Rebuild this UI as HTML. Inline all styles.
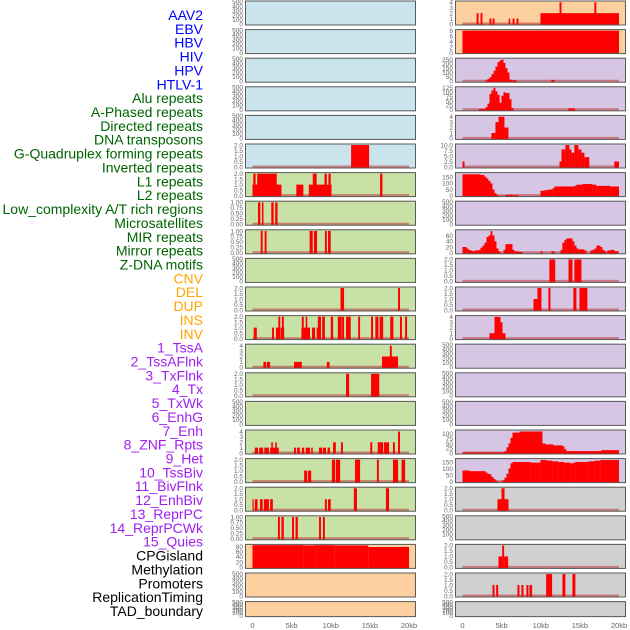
<!DOCTYPE html>
<html><head><meta charset="utf-8"><style>
html,body{margin:0;padding:0;background:#fff;width:630px;height:630px;overflow:hidden}
svg{display:block;font-family:"Liberation Sans",sans-serif}
</style></head><body>
<svg id="chart" width="630" height="630" viewBox="0 0 630 630"></svg>
<script>
// ---- data ----
const trackLabels = ["AAV2","EBV","HBV","HIV","HPV","HTLV-1","Alu repeats","A-Phased repeats","Directed repeats","DNA transposons","G-Quadruplex forming repeats","Inverted repeats","L1 repeats","L2 repeats","Low_complexity A/T rich regions","Microsatellites","MIR repeats","Mirror repeats","Z-DNA motifs","CNV","DEL","DUP","INS","INV","1_TssA","2_TssAFlnk","3_TxFlnk","4_Tx","5_TxWk","6_EnhG","7_Enh","8_ZNF_Rpts","9_Het","10_TssBiv","11_BivFlnk","12_EnhBiv","13_ReprPC","14_ReprPCWk","15_Quies","CPGisland","Methylation","Promoters","ReplicationTiming","TAD_boundary"];
const labelCategory = [0,0,0,0,0,0,1,1,1,1,1,1,1,1,1,1,1,1,1,2,2,2,2,2,3,3,3,3,3,3,3,3,3,3,3,3,3,3,3,4,4,4,4,4];
const xTicks = [0,5,10,15,20];
const xTickLabels = ["0","5kb","10kb","15kb","20kb"];
const EMPTY_TICKS = [0,100,200,300,400,500];
// per-track y-domain max and tick values (null ticks -> empty panel)
const yMax = [520,520,520,520,520,2.05, 2.05,1.03,1.03,520,2.05,2.05,4.2,2.05,520,4.2,2.05,2.05,1.03,86,520,520,
  4.15,8.2,260,128,4.15,10.25,185,520,78,2.05,2.05,4.15,520,520,520,118,172,2.05,520,2.05,2.05,520];
const yTicks = [null,null,null,null,null,[0,0.5,1,1.5,2],
 [0,0.5,1,1.5,2],[0,0.25,0.5,0.75,1],[0,0.25,0.5,0.75,1],null,[0,0.5,1,1.5,2],[0,0.5,1,1.5,2],[0,1,2,3,4],[0,0.5,1,1.5,2],null,[0,1,2,3,4],[0,0.5,1,1.5,2],[0,0.5,1,1.5,2],[0,0.25,0.5,0.75,1],[0,20,40,60,80],null,null,
 [0,1,2,3,4],[0,2,4,6,8],[0,50,100,150,200,250],[0,25,50,75,100,125],[0,1,2,3,4],[0,2.5,5,7.5,10],[0,50,100,150],null,[0,20,40,60],[0,0.5,1,1.5,2],[0,0.5,1,1.5,2],[0,1,2,3,4],null,null,null,[0,25,50,75,100],[0,50,100,150],[0,0.5,1,1.5,2],null,[0,0.5,1,1.5,2],[0,0.5,1,1.5,2],null];
const tickDecimals = [0,0,0,0,0,1, 1,2,2,0,1,1,0,1,0,0,1,1,2,0,0,0, 0,0,0,0,0,1,0,0,0,1,1,0,0,0,0,0,0,1,0,1,1,0];
// segments per track: [startKb, endKb, value]
const segs = [];
for (let i=0;i<44;i++) segs.push([]);
segs[5] = [[12.6,14.9,2]];
segs[6] = [[0,3.7,1],[0.1,0.4,2],[0.6,3.1,2],[5.6,6.5,1],[7.2,10.1,1],[7.7,8.2,2],[9.2,9.5,2],[9.7,10.0,2],[16.3,16.6,2]];
segs[7] = [[0.7,1.0,1],[1.2,1.4,1],[2.4,2.7,1],[2.9,3.2,1]];
segs[8] = [[1.05,1.3,1],[1.55,1.8,1],[7.3,7.7,1],[7.85,8.25,1],[9.25,9.5,1],[9.65,10.0,1]];
segs[10] = [[11.25,11.7,2],[18.6,18.85,2]];
segs[11] = [[0.15,0.55,1],[2.5,2.75,1],[3.0,3.35,1],[3.3,3.55,2],[3.6,4.05,1],[3.75,4.0,2],[6.25,7.35,1],[6.3,6.55,2],[6.8,7.0,2],[7.6,8.0,1],[8.2,8.45,1],[8.35,8.75,2],[8.9,9.25,2],[10.0,10.3,2],[10.9,11.4,2],[11.45,11.7,2],[11.95,12.55,2],[13.5,13.75,2],[15.15,15.4,2],[15.7,16.1,2],[16.25,16.7,2],[17.6,18.0,2],[18.85,19.1,2],[19.5,19.75,2]];
segs[12] = [[1.4,1.75,1],[1.85,2.25,1],[5.3,6.3,1],[9.5,9.85,1],[16.55,18.6,2],[17.55,17.8,4]];
segs[13] = [[11.95,12.35,2],[15.15,16.2,2]];
segs[15] = [[0.3,0.7,1],[0.85,1.35,1],[1.5,2.1,1],[2.25,3.35,1],[2.4,2.6,2],[2.9,3.1,2],[5.3,5.55,1],[5.7,6.05,1],[6.3,6.6,1],[6.8,7.35,1],[7.5,7.7,1],[8.5,8.9,1],[9.0,9.4,1],[9.6,9.9,1],[10.3,10.65,2],[11.3,11.55,2],[15.05,15.3,2],[16.0,16.7,2],[16.8,17.45,2],[17.95,18.2,2],[18.6,18.85,4]];
segs[16] = [[6.6,7.0,1],[7.1,7.5,1],[10.15,10.55,2],[10.65,11.2,2],[13.1,13.75,2],[15.9,16.15,2],[17.95,18.6,2],[19.05,19.5,2]];
segs[17] = [[0,0.15,1],[0.3,0.65,1],[0.95,1.3,1],[1.45,2.1,1],[2.25,2.6,1],[9.25,9.5,1],[9.65,10.0,1],[12.95,13.35,2],[17.05,17.45,2]];
segs[18] = [[3.25,3.5,1],[3.7,4.0,1],[5.05,5.3,1],[5.5,5.8,1],[8.5,8.75,1],[9.0,9.25,1]];
segs[19] = [[0,6.5,85],[6.5,8.0,84],[8.0,10.5,85],[10.5,14.8,84],[14.8,20,78]];
segs[22] = [[1.8,2.05,2],[2.3,2.55,2],[3.45,3.7,1],[3.85,4.1,1],[5.9,6.1,1],[6.4,6.65,1],[6.9,7.15,1],[9.96,20,2],[12.4,12.65,4],[16.85,17.1,4]];
segs[23] = [[0,20,8]];
segs[24] = [[2.94,3.19,10],[3.19,3.45,25],[3.45,3.70,45],[3.70,3.96,80],[3.96,4.21,120],[4.21,4.47,170],[4.47,4.73,220],[4.73,4.98,240],[4.98,5.24,250],[5.24,5.49,210],[5.49,5.75,150],[5.75,6.00,100],[6.00,6.26,20],[6.26,6.90,10],[11.37,11.75,15]];
segs[25] = [[2.09,2.94,5],[2.94,3.19,15],[3.19,3.45,35],[3.45,3.70,90],[3.70,3.96,110],[3.96,4.21,125],[4.21,4.47,105],[4.47,4.73,85],[4.73,4.98,40],[4.98,5.24,80],[5.24,5.49,100],[5.49,6.00,95],[6.00,6.26,60],[6.26,6.51,10],[13.5,14.4,8]];
segs[26] = [[3.70,4.21,1],[4.21,4.60,3],[4.60,5.36,4],[5.36,5.87,2]];
segs[27] = [[0,0.26,2.5],[12.4,12.65,2.5],[12.65,13.15,8],[13.15,13.66,10],[13.66,13.92,8],[13.92,14.3,6.5],[14.3,14.81,10],[14.81,15.2,8],[15.2,15.58,6.5],[15.58,16.2,4.5],[19.4,20,2.5]];
segs[28] = [[0,2.30,175],[2.30,2.81,170],[2.81,3.07,155],[3.07,3.32,140],[3.32,3.58,120],[3.58,3.83,100],[3.83,4.09,50],[4.09,4.34,20],[4.34,4.60,5],[5.49,6.13,5],[6.13,6.39,8],[6.39,7.15,3],[9.96,10.47,40],[10.47,10.98,45],[10.98,11.49,50],[11.49,11.75,60],[11.75,14.30,75],[14.30,14.56,80],[14.56,15.33,90],[15.33,16.60,95],[16.60,17.11,90],[17.11,18.90,80],[18.90,20,75]];
segs[30] = [[0,0.51,20],[0.51,0.77,15],[0.77,1.02,10],[1.02,1.28,8],[1.28,1.53,5],[1.53,2.04,8],[2.04,2.30,10],[2.30,2.55,18],[2.55,2.81,25],[2.81,3.07,35],[3.07,3.32,55],[3.32,3.58,60],[3.58,3.83,75],[3.83,4.09,60],[4.09,4.34,40],[4.34,4.60,15],[4.60,4.85,5],[5.24,5.49,10],[5.49,6.39,30],[6.39,6.64,10],[6.64,7.15,5],[7.15,7.66,3],[9.96,10.22,5],[11.37,11.75,5],[12.52,12.77,10],[12.77,13.03,35],[13.03,13.28,45],[13.28,14.05,50],[14.05,14.30,40],[14.30,14.56,25],[14.56,14.81,15],[14.81,15.58,12],[15.58,15.84,8],[16.35,16.60,8],[16.60,16.86,10],[16.86,17.11,15],[17.11,17.62,25],[17.62,17.88,20],[17.88,18.14,10],[18.14,18.39,5],[18.52,18.90,8],[18.90,19.41,10],[19.41,19.92,5]];
segs[31] = [[11.1,11.85,2],[13.55,14.05,2],[14.3,15.2,2]];
segs[32] = [[9.07,9.58,1],[9.58,10.09,2],[10.98,11.24,2],[14.17,14.56,2],[14.94,15.96,2]];
segs[33] = [[3.45,4.09,1],[4.09,4.85,4],[4.85,5.11,3],[5.11,5.49,1]];
segs[37] = [[0,5.36,3],[5.36,5.62,10],[5.62,5.87,30],[5.87,6.13,50],[6.13,6.39,80],[6.39,7.28,107],[7.28,10.22,113],[10.22,10.60,50],[10.60,11.62,45],[11.62,12.77,40],[12.77,13.03,35],[13.03,13.28,20],[13.28,17.75,10],[17.75,20,15]];
segs[38] = [[0,0.89,85],[0.89,2.94,80],[2.94,3.19,70],[3.19,3.45,60],[3.45,3.70,55],[3.70,3.96,35],[3.96,4.21,20],[4.21,4.47,5],[5.11,5.36,10],[5.36,5.62,30],[5.62,5.87,60],[5.87,6.13,100],[6.13,6.39,140],[6.39,8.68,150],[8.68,9.96,145],[9.96,10.73,165],[10.73,11.49,160],[11.49,12.26,155],[12.26,13.03,150],[13.03,13.79,145],[13.79,14.18,140],[14.18,14.43,145],[14.43,16.09,150],[16.09,16.86,155],[16.86,17.62,160],[17.62,20,165]];
segs[39] = [[4.47,5.88,1],[4.98,5.37,2]];
segs[41] = [[4.6,5.07,1],[5.07,5.32,2],[5.32,5.83,1]];
segs[42] = [[3.83,4.09,1],[4.3,4.56,1],[7.02,7.28,1],[7.53,7.79,1],[8.17,8.43,1],[8.56,8.9,1],[10.69,11.45,2],[12.77,13.15,2],[14.05,14.43,2]];

// ---- drawing ----
const NS="http://www.w3.org/2000/svg";
const svg=document.getElementById('chart');
function mk(tag,attrs,parent){const e=document.createElementNS(NS,tag);for(const k in attrs)e.setAttribute(k,attrs[k]);(parent||svg).appendChild(e);return e;}
const labelColors=["#0000ff","#006400","#ffa500","#a020f0","#000000"];
const bgColors=["#c9e4ec","#c8e1a6","#ffd09f","#d6c6e3","#d0d0d0"];
const ROW=28.6;
// labels
trackLabels.forEach((t,i)=>{
  const el=mk('text',{x:203,y:20+i*13.86,'text-anchor':'end','font-size':'14',fill:labelColors[labelCategory[i]]});
  el.textContent=t;
  
  
});
function fmt(v,d){return v.toFixed(d);}
for(let i=0;i<44;i++){
  const col=i<22?0:1, r=i%22;
  const px=col?455:245, pw=171;
  const top=r*ROW+0.5, h=(r===21)?16:25, bottom=top+h;
  const g=mk('g',{});
  
  
  const bg=mk('rect',{x:px,y:top,width:pw,height:h,fill:bgColors[labelCategory[i]]},g);
  
  
  const x0=px+7.5, xs=(156.5)/20;
  const xf=kb=>x0+kb*xs;
  const ticks=yTicks[i]||EMPTY_TICKS;
  const dmax=yTicks[i]?yMax[i]:500;
  const yb=bottom-1.5, yr=h-2.5;
  const yf=v=>yb-v/dmax*yr;
  ticks.forEach(v=>{
    const tt=mk('text',{x:px-2,y:yf(v)+2.3,'text-anchor':'end','font-size':'6.5',fill:'#666'},g);
    tt.textContent=yTicks[i]?fmt(v,tickDecimals[i]):String(v);
    
    
  });
  if(segs[i].length){
    const bl=mk('line',{x1:xf(0),x2:xf(20),y1:yb-0.5,y2:yb-0.5,stroke:'#c04040','stroke-opacity':0.6,'stroke-width':2},g);
    
    
  }
  segs[i].forEach(s=>{
    const y1=yf(s[2]);
    const b=mk('rect',{x:xf(s[0]),y:y1,width:Math.max(0.8,xf(s[1])-xf(s[0])),height:Math.max(0,yb+1-y1),fill:'#ff0000'},g);
    
    
  });
  const bd=mk('rect',{x:px+0.5,y:top+0.5,width:pw-1,height:h-1,fill:'none',stroke:'#5a5a5a','stroke-width':1},g);
  
  
}
// x axes
[245,455].forEach(px=>{
  xTicks.forEach((v,j)=>{
    const t=mk('text',{x:px+7.5+v*156.5/20,y:628,'text-anchor':'middle','font-size':'7.5',fill:'#666'});
    t.textContent=xTickLabels[j];
    
    
  });
});
</script>
</body></html>
